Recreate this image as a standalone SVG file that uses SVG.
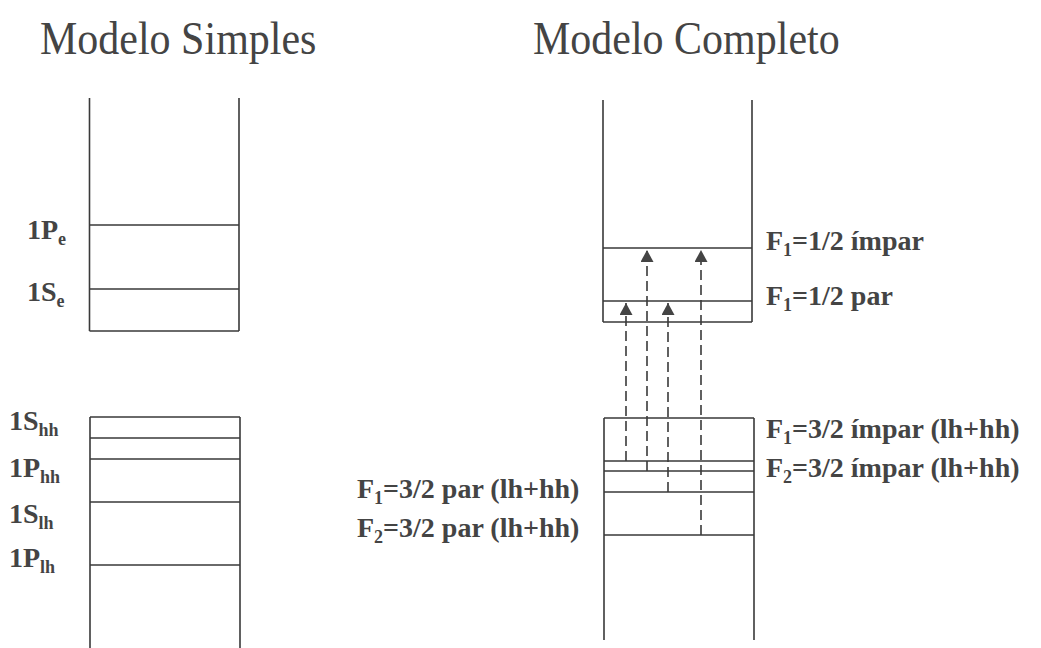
<svg xmlns="http://www.w3.org/2000/svg" width="1041" height="648" viewBox="0 0 1041 648">
<style>
.title{font-family:"Liberation Serif","Times New Roman",serif;font-size:42px;fill:#444;}
.lbl{font-family:"Liberation Serif","Times New Roman",serif;font-weight:bold;font-size:28px;fill:#444;}
.sub{font-size:18px;}
.ln{stroke:#3a3a3a;stroke-width:1.6;fill:none;}
.dash{stroke:#3a3a3a;stroke-width:1.6;fill:none;stroke-dasharray:10 5;marker-end:url(#ah);}
</style>
<defs>
<marker id="ah" markerUnits="userSpaceOnUse" markerWidth="13" markerHeight="13" refX="12" refY="6.5" orient="auto">
<path d="M0,0 L12,6.5 L0,13 Z" fill="#444"/>
</marker>
</defs>
<rect width="1041" height="648" fill="#fff"/>
<g id="titles">
<text class="title" transform="translate(40,54) scale(1,1.12)">Modelo Simples</text>
<text class="title" transform="translate(533,54) scale(1,1.12)">Modelo Completo</text>
</g>
<g id="simple-upper">
<path class="ln" d="M89.5 98 V331 M239 98 V331 M89.5 225 H239 M89.5 289 H239 M89.5 331 H239"/>
</g>
<g id="simple-lower">
<path class="ln" d="M90 417 V648 M240 417 V648 M90 417 H240 M90 438 H240 M90 459 H240 M90 502 H240 M90 565 H240"/>
</g>
<g id="complete-upper">
<path class="ln" d="M603 100 V322 M752 100 V322 M603 248 H752 M603 301 H752 M603 322 H752"/>
</g>
<g id="complete-lower">
<path class="ln" d="M604 418 V640 M754 418 V640 M604 418 H754 M604 461 H754 M604 471 H754 M604 492 H754 M604 535 H754"/>
</g>
<g id="connectors">
<path class="dash" d="M626 461 V303"/>
<path class="dash" d="M647 471 V250"/>
<path class="dash" d="M668 492 V303"/>
<path class="dash" d="M701 535 V250"/>
</g>
<g id="label-1Pe"><text class="lbl" x="27" y="239">1P<tspan class="sub" dy="6">e</tspan></text></g>
<g id="label-1Se"><text class="lbl" x="27" y="301">1S<tspan class="sub" dy="6">e</tspan></text></g>
<g id="label-1Shh"><text class="lbl" x="9" y="430">1S<tspan class="sub" dy="6">hh</tspan></text></g>
<g id="label-1Phh"><text class="lbl" x="9" y="477">1P<tspan class="sub" dy="6">hh</tspan></text></g>
<g id="label-1Slh"><text class="lbl" x="9" y="523">1S<tspan class="sub" dy="6">lh</tspan></text></g>
<g id="label-1Plh"><text class="lbl" x="9" y="567">1P<tspan class="sub" dy="6">lh</tspan></text></g>
<g id="label-f1-half-impar"><text class="lbl" x="766" y="250">F<tspan class="sub" dy="6">1</tspan><tspan dy="-6">=1/2 ímpar</tspan></text></g>
<g id="label-f1-half-par"><text class="lbl" x="766" y="305">F<tspan class="sub" dy="6">1</tspan><tspan dy="-6">=1/2 par</tspan></text></g>
<g id="label-f1-32-impar"><text class="lbl" x="766" y="438">F<tspan class="sub" dy="6">1</tspan><tspan dy="-6">=3/2 ímpar (lh+hh)</tspan></text></g>
<g id="label-f2-32-impar"><text class="lbl" x="766" y="477">F<tspan class="sub" dy="6">2</tspan><tspan dy="-6">=3/2 ímpar (lh+hh)</tspan></text></g>
<g id="label-f1-32-par"><text class="lbl" x="357" y="498">F<tspan class="sub" dy="6">1</tspan><tspan dy="-6">=3/2 par (lh+hh)</tspan></text></g>
<g id="label-f2-32-par"><text class="lbl" x="357" y="537">F<tspan class="sub" dy="6">2</tspan><tspan dy="-6">=3/2 par (lh+hh)</tspan></text></g>
</svg>
